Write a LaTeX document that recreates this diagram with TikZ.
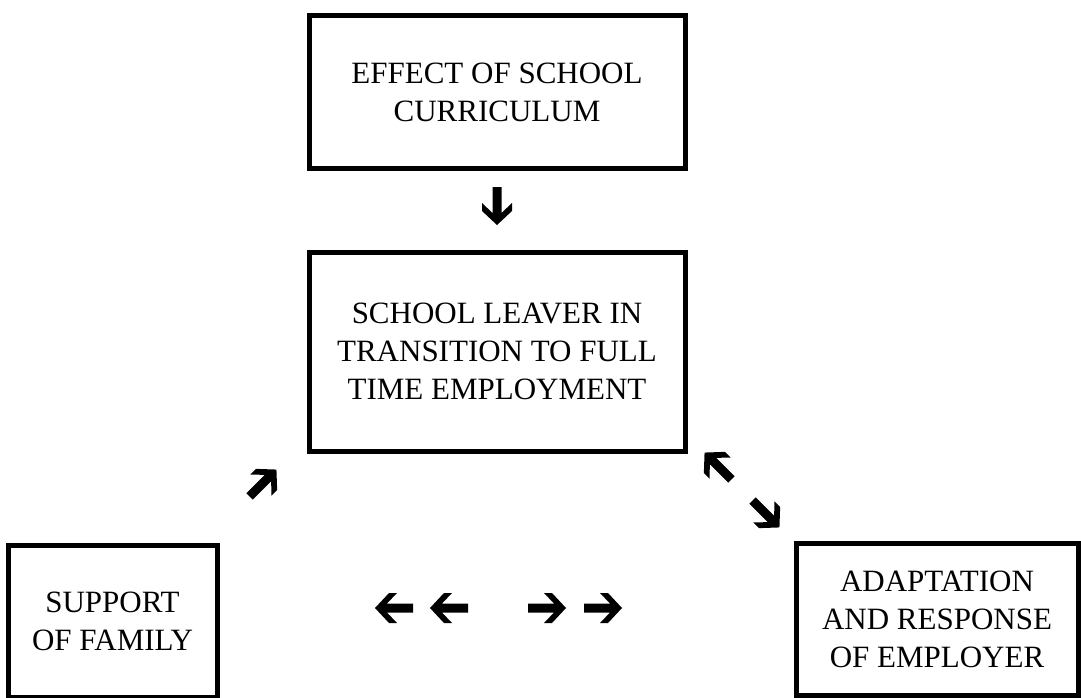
\documentclass[tikz,border=0pt]{standalone}
\usepackage{fontspec}
\setmainfont{Liberation Serif}
\begin{document}
\begin{tikzpicture}[x=1pt,y=-1pt,
  box/.style={draw=black, line width=5pt, align=center, inner sep=0pt,
    font=\fontsize{31}{38}\selectfont},
  % heavy block arrow, pointing right before rotation
  wdarrow/.pic={\fill[black] (19,0) -- (5,15) -- (-3,15) -- (7,4.5) -- (-19,4.5)
    -- (-19,-4.5) -- (7,-4.5) -- (-3,-15) -- (5,-15) -- cycle;}]
\useasboundingbox (0,0) rectangle (1081,698);

% boxes
\node[box, minimum width=376pt, minimum height=152pt] (curriculum) at (497,92)
  {EFFECT OF SCHOOL\\CURRICULUM};
\node[box, minimum width=376pt, minimum height=199pt] (leaver) at (497,351.5)
  {SCHOOL LEAVER IN\\TRANSITION TO FULL\\TIME EMPLOYMENT};
\node[box, minimum width=209pt, minimum height=152pt] (family) at (112.5,621)
  {SUPPORT\\OF FAMILY};
\node[box, minimum width=282pt, minimum height=152pt] (employer) at (937,619)
  {ADAPTATION\\AND RESPONSE\\OF EMPLOYER};

% arrows between the boxes
\pic[rotate=-90] at (497,206) {wdarrow};
\pic[rotate=45] at (263,483) {wdarrow};
\pic[rotate=135] at (718,466) {wdarrow};
\pic[rotate=-45] at (766,514) {wdarrow};
\pic[rotate=180] at (394,608) {wdarrow};
\pic[rotate=180] at (449,608) {wdarrow};
\pic at (547,608) {wdarrow};
\pic at (603,608) {wdarrow};
\end{tikzpicture}
\end{document}
